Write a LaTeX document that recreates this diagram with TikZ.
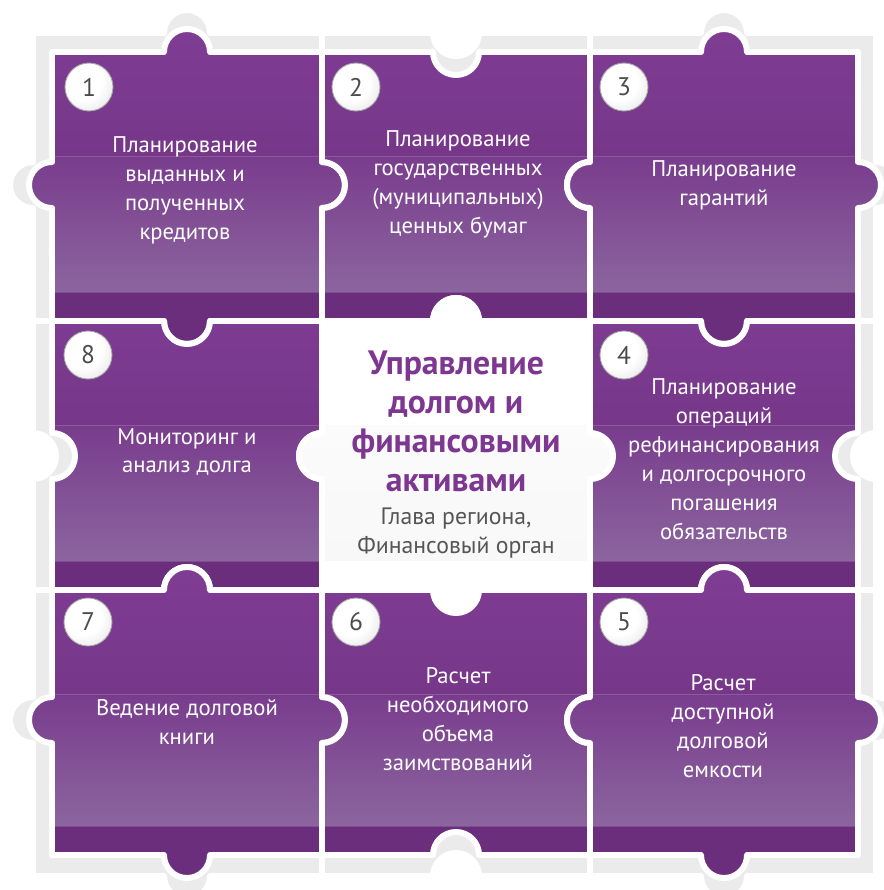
\documentclass[tikz,border=0pt]{standalone}
\usepackage{fontspec}
\setmainfont{PT Sans}
\usepackage{tikz}
\definecolor{shadowgray}{RGB}{235,235,235}
\definecolor{ptop}{RGB}{127,61,148}
\definecolor{pmid}{RGB}{118,55,137}
\definecolor{pmidb}{RGB}{121,60,141}
\definecolor{plow}{RGB}{139,101,158}
\definecolor{pband}{RGB}{106,46,125}
\definecolor{ctop}{RGB}{255,255,255}
\definecolor{cmid}{RGB}{255,255,255}
\definecolor{cmidb}{RGB}{251,251,251}
\definecolor{clow}{RGB}{248,248,248}
\definecolor{cband}{RGB}{255,255,255}
\definecolor{titlepurple}{RGB}{125,55,145}
\definecolor{rolegray}{RGB}{85,85,85}
\pgfdeclareradialshading{badgeball}{\pgfpoint{-10bp}{10bp}}{color(0bp)=(white); color(20bp)=(white); color(38bp)=(black!12); color(50bp)=(black!28)}

% knob radius, piece outline: x0,y0,x1,y1,knob x,knob y,knob (1 out, -1 in)
\newcommand{\knobr}{23}
\newcommand{\piecepath}[7]{(#1,#2) -- (#5-\knobr,#2) arc[start angle=180, end angle={180+180*(#7)}, radius=\knobr] -- (#3,#2) -- (#3,#6-\knobr) arc[start angle=270, end angle={270+180*(#7)}, radius=\knobr] -- (#3,#4) -- (#5+\knobr,#4) arc[start angle=0, end angle={180*(#7)}, radius=\knobr] -- (#1,#4) -- (#1,#6+\knobr) arc[start angle=90, end angle={90+180*(#7)}, radius=\knobr] -- cycle}
\newcommand{\puzzleshadow}[7]{\filldraw[fill=shadowgray, edge] \piecepath{#1}{#2}{#3}{#4}{#5}{#6}{#7};}
\newcommand{\puzzletile}[8]{%
  \begin{scope}
    \clip \piecepath{#1}{#2}{#3}{#4}{#5}{#6}{#7};
    \shade[top color=#8top, bottom color=#8mid] (#1-30,#2-30) rectangle (#3+30,#2+104);
    \shade[top color=#8midb, bottom color=#8low] (#1-30,#2+104) rectangle (#3+30,#4-29);
    \fill[#8band] (#1-30,#4-29) rectangle (#3+30,#4+30);
    \draw[white, opacity=.15, line width=.5pt] (#1,#2+104) -- (#3,#2+104) (#1,#4-29) -- (#3,#4-29);
  \end{scope}
  \draw[edge] \piecepath{#1}{#2}{#3}{#4}{#5}{#6}{#7};}

\begin{document}
\begin{tikzpicture}[x=0.02cm, y=-0.02cm,
  edge/.style={draw=white, line width=3.4pt, line join=round},
  tiletext/.style={text=white, align=center, inner sep=0pt, font=\fontsize{12.9}{16.5}\selectfont},
  badge/.style={circle, draw=black!35, line width=.5pt, minimum size=0.96cm, inner sep=0pt, shade, shading=badgeball, text=black!70, font=\fontsize{14.5}{16}\selectfont}]
 \useasboundingbox (0,0) rectangle (884,890);
 \clip (0,0) rectangle (884,890);
 \fill[white] (0,0) rectangle (884,890);
 % grey backing
 \puzzleshadow{33}{33}{322}{321}{187}{185}{1}
 \puzzleshadow{322}{33}{590}{321}{456}{185}{-1}
 \puzzleshadow{590}{33}{876}{321}{724}{185}{1}
 \puzzleshadow{33}{321}{322}{590}{187}{456}{-1}
 \puzzleshadow{590}{321}{876}{590}{724}{456}{-1}
 \puzzleshadow{33}{590}{322}{876}{187}{720}{1}
 \puzzleshadow{322}{590}{590}{876}{456}{720}{-1}
 \puzzleshadow{590}{590}{876}{876}{724}{720}{1}
 % puzzle pieces
 \puzzletile{52}{52}{322}{321}{187}{185}{1}{p}
 \puzzletile{322}{52}{590}{321}{456}{185}{-1}{p}
 \puzzletile{590}{52}{858}{321}{724}{185}{1}{p}
 \puzzletile{52}{321}{322}{590}{187}{456}{-1}{p}
 \puzzletile{322}{321}{590}{590}{456}{456}{1}{c}
 \puzzletile{590}{321}{858}{590}{724}{456}{-1}{p}
 \puzzletile{52}{590}{322}{855}{187}{720}{1}{p}
 \puzzletile{322}{590}{590}{855}{456}{720}{-1}{p}
 \puzzletile{590}{590}{858}{855}{724}{720}{1}{p}
 % numbers
 \node[badge] (b1) at (89,87){1};
 \node[badge] (b2) at (356,87){2};
 \node[badge] (b3) at (624,87){3};
 \node[badge] (b4) at (624,355){4};
 \node[badge] (b5) at (624,622){5};
 \node[badge] (b6) at (356,622){6};
 \node[badge] (b7) at (88,622){7};
 \node[badge] (b8) at (88,355){8};
 % texts
 \node[tiletext] (t1) at (185,190){Планирование\\выданных и\\полученных\\кредитов};
 \node[tiletext] (t2) at (458,184){Планирование\\государственных\\(муниципальных)\\ценных бумаг};
 \node[tiletext] (t3) at (724,185){Планирование\\гарантий};
 \node[tiletext] (t4) at (724,459){Планирование\\операций\\рефинансирования\\и долгосрочного\\погашения\\обязательств};
 \node[tiletext] (t5) at (723,726){Расчет\\доступной\\долговой\\емкости};
 \node[tiletext] (t6) at (458,719){Расчет\\необходимого\\объема\\заимствований};
 \node[tiletext] (t7) at (187,722){Ведение долговой\\книги};
 \node[tiletext] (t8) at (187,452){Мониторинг и\\анализ долга};
 \node[align=center, inner sep=0pt, text=titlepurple, font=\bfseries\fontsize{19.2}{22.2}\selectfont] (title) at (456,421){Управление\\долгом и\\финансовыми\\активами};
 \node[align=center, inner sep=0pt, text=rolegray, font=\fontsize{13.5}{16.5}\selectfont] (role) at (456,533){Глава региона,\\Финансовый орган};
\end{tikzpicture}
\end{document}
